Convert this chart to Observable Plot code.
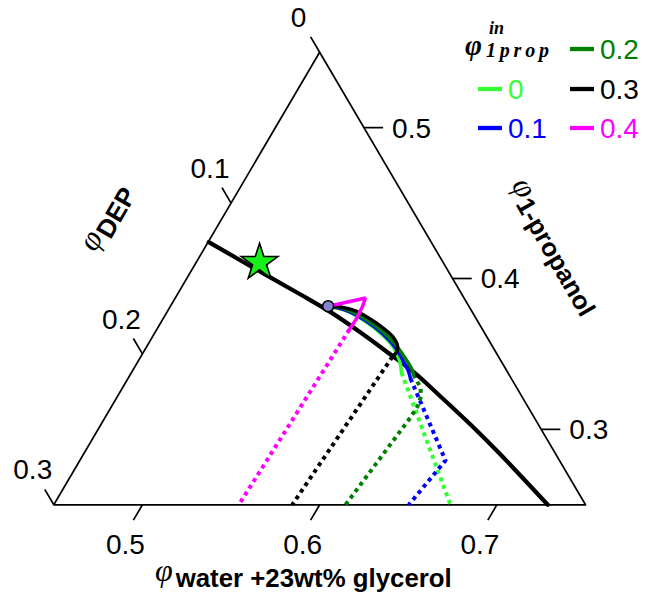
<!DOCTYPE html>
<html><head><meta charset="utf-8">
<script src="https://cdn.jsdelivr.net/npm/d3@7"></script>
<script src="https://cdn.jsdelivr.net/npm/@observablehq/plot@0.6"></script>
<style>
html,body{margin:0;padding:0;background:#fff;}
#chart{width:646px;height:599px;overflow:hidden;}
</style></head><body><div id="chart"></div>
<script>
// ---- axis ranges of the zoomed ternary (volume fractions) ----
const waterRange = [0.45, 0.75];
const depRange = [0, 0.3];
const propRange = [0.25, 0.55];
const waterTicks = [0.5, 0.6, 0.7];
const depTicks = [0, 0.1, 0.2, 0.3];
const propTicks = [0.3, 0.4, 0.5];
const waterTickLabels = ["0.5", "0.6", "0.7"];
const depTickLabels = ["0", "0.1", "0.2", "0.3"];
const propTickLabels = ["0.3", "0.4", "0.5"];

// ---- binodal (water, DEP) ----
const binodalWater = [0.4504, 0.4871, 0.5195, 0.5423, 0.5660, 0.5902, 0.6106, 0.6323, 0.6585, 0.6854, 0.7287];
const binodalDEP   = [0.1255, 0.1073, 0.0911, 0.0800, 0.0698, 0.0602, 0.0524, 0.0459, 0.0383, 0.0313, 0.0213];

// ---- special points ----
const starWater = [0.4858], starDEP = [0.1036];
const circleWater = [0.5390], circleDEP = [0.0794];

// ---- series: phi_1prop^in ----
const seriesNames = ["0", "0.1", "0.2", "0.3", "0.4"];
const seriesColors = ["#33ff33", "#0000ff", "#008000", "#000000", "#ff00ff"];

// solid trajectories (water, DEP)
const solid0Water  = [0.5390, 0.5502, 0.5651, 0.5792, 0.5895, 0.5972, 0.6023];
const solid0DEP    = [0.0794, 0.0710, 0.0634, 0.0583, 0.0562, 0.0571, 0.0600];
const solid1Water  = [0.5390, 0.5500, 0.5648, 0.5787, 0.5907, 0.5998, 0.6060, 0.6094];
const solid1DEP    = [0.0794, 0.0709, 0.0631, 0.0578, 0.0551, 0.0552, 0.0557, 0.0569];
const solid2Water  = [0.5390, 0.5497, 0.5643, 0.5780, 0.5897, 0.6000, 0.6067, 0.6098];
const solid2DEP    = [0.0794, 0.0705, 0.0626, 0.0571, 0.0541, 0.0531, 0.0530, 0.0539];
const solid3Water  = [0.5390, 0.5462, 0.5560, 0.5657, 0.5767, 0.5853, 0.5911, 0.5928, 0.5920];
const solid3DEP    = [0.0794, 0.0727, 0.0655, 0.0605, 0.0558, 0.0531, 0.0533, 0.0556, 0.0598];
const solid4Water  = [0.5390, 0.5475, 0.5573, 0.5585, 0.5591, 0.5587];
const solid4DEP    = [0.0794, 0.0684, 0.0556, 0.0601, 0.0675, 0.0751];

// dotted paths (water, DEP)
const dot0Water = [0.6023, 0.6738];
const dot0DEP   = [0.0600, 0.0762];
const dot1Water = [0.6094, 0.6563, 0.6503];
const dot1DEP   = [0.0569, 0.0643, 0.0997];
const dot2Water = [0.6098, 0.6180, 0.6213, 0.6226, 0.6223, 0.6146];
const dot2DEP   = [0.0539, 0.0542, 0.0569, 0.0622, 0.0698, 0.1354];
const dot3Water = [0.5920, 0.5845];
const dot3DEP   = [0.0598, 0.1655];
const dot4Water = [0.5587, 0.5544];
const dot4DEP   = [0.0751, 0.1956];

// ---- ternary -> cartesian (in units of the sub-triangle) ----
const span = waterRange[1] - waterRange[0];
function T(w, d) {
  const p = 1 - w - d;
  const wt = (p - propRange[0]) / span;
  const wbr = (w - waterRange[0]) / span;
  return {x: wbr + wt / 2, y: wt};
}
const pts = (ws, ds) => ws.map((w, i) => T(w, ds[i]));

const outline = pts(
  [waterRange[0], waterRange[0], waterRange[1], waterRange[0]],
  [depRange[0], depRange[1], depRange[0], depRange[0]]
);

const k = 0.034, kp = 0.036;
const waterTickData = waterTicks.map((v, i) => {
  const a = T(v, 1 - v - propRange[0]);
  return {x1: a.x, y1: a.y, x2: a.x - 0.5 * k, y2: a.y - k, label: waterTickLabels[i]};
});
const depTickData = depTicks.map((v, i) => {
  const a = T(waterRange[0], v);
  return {x1: a.x, y1: a.y, x2: a.x - 0.5 * k, y2: a.y + k, label: depTickLabels[i]};
});
const propTickData = propTicks.map((v, i) => {
  const a = T(1 - v - depRange[0], depRange[0]);
  return {x1: a.x, y1: a.y, x2: a.x + kp, y2: a.y, label: propTickLabels[i]};
});
const allTicks = [...waterTickData, ...depTickData, ...propTickData];

const solids = [
  pts(solid0Water, solid0DEP), pts(solid1Water, solid1DEP), pts(solid2Water, solid2DEP),
  pts(solid3Water, solid3DEP), pts(solid4Water, solid4DEP)
];
const dots = [
  pts(dot0Water, dot0DEP), pts(dot1Water, dot1DEP), pts(dot2Water, dot2DEP),
  pts(dot3Water, dot3DEP), pts(dot4Water, dot4DEP)
];

const labelFont = "'Liberation Sans', Arial, sans-serif";

const marks = [
  Plot.line(outline, {x: "x", y: "y", stroke: "black", strokeWidth: 1.7}),
  Plot.link(allTicks, {x1: "x1", y1: "y1", x2: "x2", y2: "y2", stroke: "black", strokeWidth: 1.7}),
  Plot.text(waterTickData, {x: "x2", y: "y2", text: "label", dx: -8, dy: 25, fontSize: 28, fill: "black"}),
  Plot.text(depTickData, {x: "x2", y: "y2", text: "label", dx: -12, dy: -19, fontSize: 28, fill: "black"}),
  Plot.text(propTickData, {x: "x2", y: "y2", text: "label", dx: 9, dy: 1, fontSize: 28, fill: "black", textAnchor: "start"})
];
dots.forEach((d, i) => marks.push(Plot.line(d, {x: "x", y: "y", stroke: seriesColors[i], strokeWidth: 4, strokeDasharray: "4,4", strokeLinecap: "butt"})));
marks.push(Plot.line(pts(binodalWater, binodalDEP), {x: "x", y: "y", stroke: "black", strokeWidth: 4.2, curve: "catmull-rom"}));
[0, 1, 2, 3].forEach(i => marks.push(Plot.line(solids[i], {x: "x", y: "y", stroke: seriesColors[i], strokeWidth: 3.5, curve: "catmull-rom"})));
marks.push(Plot.line(solids[4], {x: "x", y: "y", stroke: seriesColors[4], strokeWidth: 3.5, strokeLinejoin: "miter"}));
marks.push(Plot.dot(pts(circleWater, circleDEP), {x: "x", y: "y", r: 5.5, fill: "#8383d3", stroke: "black", strokeWidth: 1.5}));
marks.push(Plot.dot(pts(starWater, starDEP), {x: "x", y: "y", symbol: "star", r: 11.5, fill: "#19f019", stroke: "black", strokeWidth: 1.6}));

const svg = Plot.plot({
  width: 646, height: 599,
  marginLeft: 53.3, marginRight: 61, marginTop: 51.7, marginBottom: 94.7,
  x: {domain: [0, 1], axis: null},
  y: {domain: [0, 1], axis: null},
  style: {fontFamily: labelFont, background: "white", overflow: "visible"},
  marks
});
document.getElementById("chart").appendChild(svg);

// ---- axis titles & legend ----
const s = d3.select(svg);
const serif = "'Liberation Serif', 'Times New Roman', serif";
const sans = "'Liberation Sans', Arial, sans-serif";
const g = s.append("g").attr("text-anchor", "start").attr("fill", "black");

// bottom title
const bt = g.append("text").attr("x", 155).attr("y", 581);
bt.append("tspan").attr("font-family", serif).attr("font-style", "italic").attr("font-size", 32).text("φ");
bt.append("tspan").attr("font-family", sans).attr("font-weight", "bold").attr("font-size", 25.8).attr("dx", 3).attr("dy", 6).text("water +23wt% glycerol");

// left title
const lt = g.append("text").attr("transform", "translate(95,253) rotate(-60)");
lt.append("tspan").attr("font-family", serif).attr("font-style", "italic").attr("font-size", 32).text("φ");
lt.append("tspan").attr("font-family", sans).attr("font-weight", "bold").attr("font-size", 26).attr("dx", 1).attr("dy", 7).text("DEP");

// right title
const rt = g.append("text").attr("transform", "translate(511,185) rotate(60)");
rt.append("tspan").attr("font-family", serif).attr("font-style", "italic").attr("font-size", 32).text("φ");
rt.append("tspan").attr("font-family", sans).attr("font-weight", "bold").attr("font-size", 25.5).attr("dx", 1).attr("dy", 6).text("1-propanol");

// legend title
g.append("text").attr("x", 465).attr("y", 55).attr("font-family", serif).attr("font-style", "italic").attr("font-weight", "bold").attr("font-size", 29).text("φ");
g.append("text").attr("x", 489).attr("y", 34).attr("font-family", serif).attr("font-style", "italic").attr("font-weight", "bold").attr("font-size", 18).text("in");
g.append("text").attr("x", 486).attr("y", 57).attr("font-family", serif).attr("font-style", "italic").attr("font-weight", "bold").attr("font-size", 20).attr("textLength", 63).text("1prop");

// legend entries
const legendPos = [[478, 89], [478, 128], [570, 49], [570, 89], [570, 128]];
seriesNames.forEach((n, i) => {
  const [lx, ly] = legendPos[i];
  g.append("line").attr("x1", lx).attr("x2", lx + 24).attr("y1", ly).attr("y2", ly)
    .attr("stroke", seriesColors[i]).attr("stroke-width", 4.3);
  g.append("text").attr("x", lx + 30).attr("y", ly).attr("dy", "0.36em")
    .attr("font-family", sans).attr("font-size", 28).attr("fill", seriesColors[i]).text(n);
});
</script></body></html>
